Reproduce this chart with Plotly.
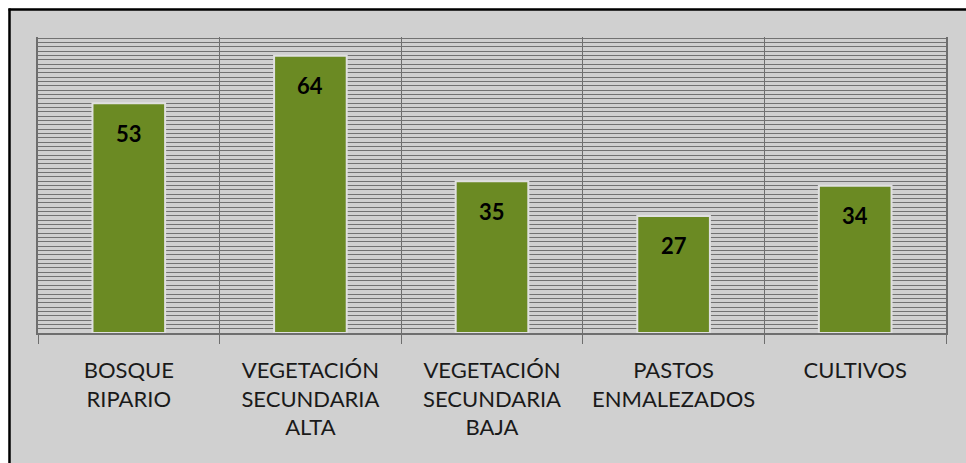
import plotly.graph_objects as go

categories = ["BOSQUE<br>RIPARIO", "VEGETACIÓN<br>SECUNDARIA<br>ALTA", "VEGETACIÓN<br>SECUNDARIA<br>BAJA",
              "PASTOS<br>ENMALEZADOS", "CULTIVOS"]
values = [53, 64, 35, 27, 34]

W, H = 966, 463
ml, mr, mt, mb = 38, 20, 37, 130
pw, ph = W - ml - mr, H - mt - mb
frame = 9.5  # position of the black frame (px from figure's top-left)

fig = go.Figure()
fig.add_trace(go.Bar(
    x=categories, y=values, width=0.4,
    marker=dict(color="#6B8A23", line=dict(color="#E0E0E0", width=2)),
    hoverinfo="skip",
))

for c, v in zip(categories, values):
    fig.add_annotation(x=c, y=v, yshift=-30, text="<b>%d</b>" % v, showarrow=False,
                       font=dict(family="Lato, Arial", size=22, color="#000000"))

px = lambda p: p / pw
py = lambda p: p / ph

fig.update_layout(
    width=W, height=H,
    margin=dict(l=ml, r=mr, t=mt, b=mb),
    paper_bgcolor="#D0D0D0", plot_bgcolor="#D0D0D0",
    showlegend=False,
    bargap=0.6,
    xaxis=dict(type="category", tickson="boundaries", showgrid=True, gridcolor="#6E6E6E", gridwidth=1.2,
               ticks="outside", ticklen=9, tickcolor="#6E6E6E", tickwidth=1.2,
               ticklabelstandoff=17,
               showline=True, linecolor="#6E6E6E", linewidth=1.5,
               tickfont=dict(family="Lato, Arial", size=22, color="#1A1A1A"), fixedrange=True),
    yaxis=dict(range=[0, 68.3], dtick=1, showgrid=True, gridcolor="#727272", gridwidth=1.1,
               showticklabels=False, zeroline=False, showline=True, linecolor="#6E6E6E", linewidth=2,
               mirror=True, ticks="", fixedrange=True),
    shapes=[
        # white strips outside the frame
        dict(type="rect", xref="paper", yref="paper", x0=px(-ml - 2), x1=px(-ml + frame - 1),
             y0=py(-mb - 2), y1=py(ph + mt + 2), fillcolor="#FFFFFF", line_width=0, layer="below"),
        dict(type="rect", xref="paper", yref="paper", x0=px(-ml - 2), x1=px(pw + mr + 2),
             y0=py(ph + mt - frame + 1), y1=py(ph + mt + 2), fillcolor="#FFFFFF", line_width=0, layer="below"),
        # black frame lines (left and top)
        dict(type="line", xref="paper", yref="paper", x0=px(-ml + frame), x1=px(-ml + frame),
             y0=py(-mb - 5), y1=py(ph + mt - frame + 1),
             line=dict(color="#000000", width=2.5), layer="below"),
        dict(type="line", xref="paper", yref="paper", x0=px(-ml + frame - 1), x1=px(pw + mr + 5),
             y0=py(ph + mt - frame), y1=py(ph + mt - frame),
             line=dict(color="#000000", width=2.5), layer="below"),
    ],
)

fig.write_html("out.html", config={"displayModeBar": False},
               post_script="document.body.style.margin='0';"
                           "document.documentElement.style.overflow='hidden';"
                           "document.body.style.overflow='hidden';")
